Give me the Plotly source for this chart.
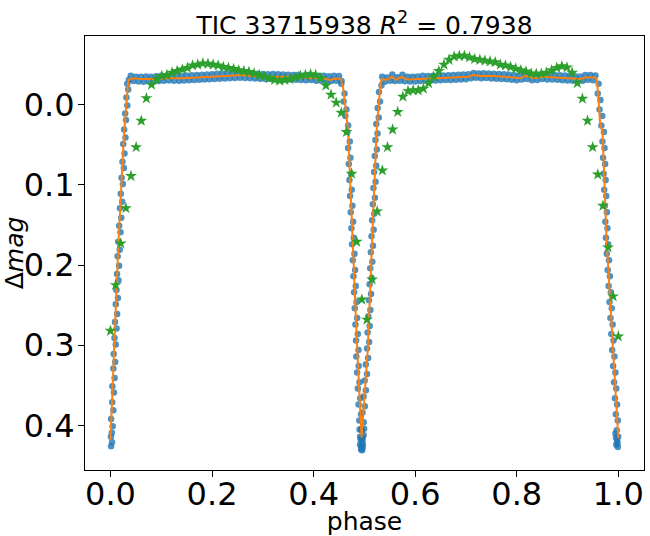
import numpy as np
import plotly.graph_objects as go

# --- green stars: model sampled on an even phase grid ---
star_phase = np.linspace(0, 1, 100)
star_mag = [0.282, 0.225, 0.173, 0.129, 0.089, 0.053, 0.020, -0.008, -0.025, -0.032,
            -0.036, -0.037, -0.040, -0.042, -0.044, -0.046, -0.049, -0.050, -0.0515, -0.051,
            -0.050, -0.049, -0.047, -0.046, -0.0445, -0.043, -0.042, -0.041, -0.039, -0.037,
            -0.035, -0.033, -0.031, -0.030, -0.031, -0.032, -0.034, -0.036, -0.037, -0.038,
            -0.037, -0.033, -0.024, -0.0125, -0.0025, 0.010, 0.034, 0.086, 0.171, 0.243,
            0.268, 0.218, 0.133, 0.082, 0.053, 0.031, 0.009, -0.010, -0.017, -0.018,
            -0.018, -0.020, -0.027, -0.035, -0.042, -0.050, -0.056, -0.060, -0.061, -0.061,
            -0.059, -0.057, -0.056, -0.055, -0.054, -0.053, -0.050, -0.049, -0.047, -0.045,
            -0.043, -0.0415, -0.039, -0.0387, -0.0387, -0.040, -0.043, -0.046, -0.048, -0.0465,
            -0.040, -0.027, -0.0075, 0.020, 0.053, 0.087, 0.126, 0.178, 0.239, 0.289]

# --- orange model curve ---
model_phase = [0.0, 0.0155, 0.0266, 0.032, 0.035, 0.040, 0.06, 0.084, 0.111, 0.143,
               0.176, 0.196, 0.222, 0.26, 0.275, 0.301, 0.334, 0.367, 0.399, 0.419,
               0.432, 0.445, 0.454, 0.4585, 0.464, 0.468, 0.486, 0.4945, 0.5065, 0.524,
               0.532, 0.535, 0.545, 0.554, 0.5636, 0.573, 0.583, 0.603, 0.613, 0.636,
               0.675, 0.705, 0.714, 0.728, 0.747, 0.774, 0.806, 0.816, 0.836, 0.852,
               0.879, 0.905, 0.925, 0.934, 0.954, 0.9575, 0.9606, 0.964, 0.969, 0.977,
               1.0]
model_mag = [0.418, 0.174, 0.037, -0.011, -0.030, -0.033, -0.032, -0.032, -0.033, -0.033,
             -0.034, -0.035, -0.036, -0.037, -0.036, -0.035, -0.035, -0.034, -0.033, -0.033,
             -0.031, -0.033, -0.032, -0.0195, 0.0096, 0.035, 0.307, 0.415, 0.307, 0.032,
             -0.028, -0.032, -0.031, -0.035, -0.031, -0.035, -0.0316, -0.032, -0.033, -0.033,
             -0.034, -0.035, -0.037, -0.0358, -0.036, -0.035, -0.033, -0.036, -0.033, -0.035,
             -0.034, -0.033, -0.032, -0.034, -0.034, -0.032, -0.011, 0.022, 0.035, 0.170,
             0.416]

# --- blue observations ---
# out-of-eclipse plateau after primary (two rows of the dense band)
pl1_up_phase = [0.04, 0.05, 0.06, 0.07, 0.08, 0.09, 0.10, 0.11, 0.12, 0.13, 0.14, 0.15, 0.16, 0.17,
                0.18, 0.19, 0.20, 0.21, 0.22, 0.23, 0.24, 0.25, 0.26, 0.27, 0.28, 0.29, 0.30, 0.31,
                0.32, 0.33, 0.34, 0.35, 0.36, 0.37, 0.38, 0.39, 0.40, 0.41, 0.42, 0.43, 0.44, 0.45]
pl1_up_mag = [-0.0360, -0.0350, -0.0350, -0.0353, -0.0350, -0.0355, -0.0360, -0.0360, -0.0357, -0.0363,
              -0.0360, -0.0365, -0.0367, -0.0370, -0.0375, -0.0377, -0.0380, -0.0385, -0.0390, -0.0388,
              -0.0392, -0.0395, -0.0397, -0.0393, -0.0390, -0.0385, -0.0383, -0.0380, -0.0382, -0.0379,
              -0.0377, -0.0375, -0.0371, -0.0373, -0.0365, -0.0370, -0.0362, -0.0360, -0.0362, -0.0355,
              -0.0360, -0.0357]
pl1_lo_phase = [0.045, 0.055, 0.065, 0.075, 0.085, 0.095, 0.105, 0.115, 0.125, 0.135, 0.145, 0.155,
                0.165, 0.175, 0.185, 0.195, 0.205, 0.215, 0.225, 0.235, 0.245, 0.255, 0.265, 0.275,
                0.285, 0.295, 0.305, 0.315, 0.325, 0.335, 0.345, 0.355, 0.365, 0.375, 0.385, 0.395,
                0.405, 0.415, 0.425, 0.435, 0.445, 0.455]
pl1_lo_mag = [-0.0295, -0.0290, -0.0287, -0.0292, -0.0290, -0.0295, -0.0298, -0.0302, -0.0298, -0.0300,
              -0.0302, -0.0305, -0.0307, -0.0310, -0.0315, -0.0318, -0.0320, -0.0325, -0.0328, -0.0330,
              -0.0333, -0.0335, -0.0333, -0.0330, -0.0327, -0.0323, -0.0320, -0.0320, -0.0322, -0.0317,
              -0.0315, -0.0313, -0.0310, -0.0308, -0.0305, -0.0307, -0.0300, -0.0298, -0.0290, -0.0295,
              -0.0298, -0.0295]
# plateau after secondary
pl2_up_phase = [0.535, 0.545, 0.555, 0.565, 0.575, 0.585, 0.595, 0.605, 0.615, 0.625, 0.635, 0.645,
                0.655, 0.665, 0.675, 0.685, 0.695, 0.705, 0.715, 0.725, 0.735, 0.745, 0.755, 0.765,
                0.775, 0.785, 0.795, 0.805, 0.815, 0.825, 0.835, 0.845, 0.855, 0.865, 0.875, 0.885,
                0.895, 0.905, 0.915, 0.925, 0.935, 0.945, 0.955]
pl2_up_mag = [-0.0350, -0.0340, -0.0377, -0.0343, -0.0375, -0.0348, -0.0350, -0.0352, -0.0360, -0.0358,
              -0.0362, -0.0363, -0.0365, -0.0368, -0.0370, -0.0373, -0.0377, -0.0380, -0.0395, -0.0390,
              -0.0391, -0.0390, -0.0387, -0.0383, -0.0380, -0.0375, -0.0368, -0.0363, -0.0387, -0.0375,
              -0.0362, -0.0370, -0.0380, -0.0375, -0.0371, -0.0368, -0.0365, -0.0360, -0.0355, -0.0353,
              -0.0370, -0.0370, -0.0365]
pl2_lo_phase = [0.54, 0.55, 0.56, 0.57, 0.58, 0.59, 0.60, 0.61, 0.62, 0.63, 0.64, 0.65, 0.66, 0.67,
                0.68, 0.69, 0.70, 0.71, 0.72, 0.73, 0.74, 0.75, 0.76, 0.77, 0.78, 0.79, 0.80, 0.81,
                0.82, 0.83, 0.84, 0.85, 0.86, 0.87, 0.88, 0.89, 0.90, 0.91, 0.92, 0.93, 0.94, 0.95]
pl2_lo_mag = [-0.0285, -0.0300, -0.0295, -0.0300, -0.0292, -0.0290, -0.0290, -0.0297, -0.0300, -0.0298,
              -0.0303, -0.0305, -0.0307, -0.0308, -0.0312, -0.0315, -0.0317, -0.0330, -0.0335, -0.0330,
              -0.0332, -0.0328, -0.0325, -0.0322, -0.0317, -0.0312, -0.0305, -0.0315, -0.0320, -0.0305,
              -0.0308, -0.0320, -0.0315, -0.0313, -0.0310, -0.0305, -0.0302, -0.0298, -0.0292, -0.0300,
              -0.0310, -0.0305]
# primary egress
eg1_phase = [0.0012, 0.0030, 0.0008, 0.0026, 0.0043, 0.0012, 0.0056, 0.0034, 0.0068, 0.0037,
             0.0081, 0.0057, 0.0093, 0.0063, 0.0104, 0.0079, 0.0119, 0.0089, 0.0131, 0.0104,
             0.0146, 0.0117, 0.0157, 0.0129, 0.0169, 0.0141, 0.0182, 0.0154, 0.0197, 0.0171,
             0.0212, 0.0186, 0.0230, 0.0203, 0.0244, 0.0219, 0.0262, 0.0236, 0.0276, 0.0251,
             0.0295, 0.0269, 0.0306, 0.0289, 0.0331, 0.0314, 0.0349, 0.0331, 0.0362]
eg1_mag = [0.426, 0.421, 0.414, 0.409, 0.401, 0.392, 0.381, 0.371, 0.359, 0.351,
           0.341, 0.329, 0.321, 0.311, 0.299, 0.291, 0.279, 0.271, 0.261, 0.249,
           0.241, 0.231, 0.219, 0.211, 0.201, 0.189, 0.181, 0.171, 0.159, 0.151,
           0.141, 0.129, 0.121, 0.111, 0.099, 0.091, 0.079, 0.071, 0.061, 0.049,
           0.041, 0.031, 0.019, 0.011, 0.001, -0.009, -0.019, -0.026, -0.031]
# secondary ingress, bottom, egress
in2_phase = [0.4545, 0.4609, 0.4590, 0.4647, 0.4625, 0.4680, 0.4665, 0.4712, 0.4680, 0.4725,
             0.4693, 0.4738, 0.4705, 0.4751, 0.4718, 0.4764, 0.4731, 0.4778, 0.4744, 0.4791,
             0.4757, 0.4804, 0.4771, 0.4817, 0.4784, 0.4830, 0.4797, 0.4844, 0.4810, 0.4857,
             0.4823, 0.4870, 0.4836, 0.4884, 0.4841, 0.4888, 0.4856, 0.4903, 0.4871, 0.4918,
             0.4885, 0.4933, 0.4900, 0.4948, 0.4915]
in2_mag = [-0.026, -0.014, -0.004, 0.006, 0.014, 0.026, 0.034, 0.046, 0.054, 0.066,
           0.074, 0.086, 0.094, 0.106, 0.114, 0.126, 0.134, 0.146, 0.154, 0.166,
           0.174, 0.186, 0.194, 0.206, 0.214, 0.226, 0.234, 0.246, 0.254, 0.266,
           0.274, 0.286, 0.294, 0.306, 0.314, 0.326, 0.334, 0.346, 0.354, 0.366,
           0.374, 0.386, 0.394, 0.406, 0.414]
bot2_phase = [0.4905, 0.4925, 0.4940, 0.4955, 0.4970, 0.4985, 0.4950, 0.4915, 0.4965, 0.4995, 0.4935, 0.4960]
bot2_mag = [0.405, 0.418, 0.426, 0.431, 0.424, 0.412, 0.415, 0.424, 0.428, 0.404, 0.430, 0.420]
eg2_phase = [0.4965, 0.4941, 0.4987, 0.4963, 0.5009, 0.4985, 0.5030, 0.5006, 0.5052, 0.5028,
             0.5074, 0.5051, 0.5093, 0.5064, 0.5105, 0.5077, 0.5118, 0.5089, 0.5131, 0.5102,
             0.5143, 0.5115, 0.5156, 0.5127, 0.5169, 0.5140, 0.5182, 0.5153, 0.5194, 0.5166,
             0.5207, 0.5178, 0.5220, 0.5191, 0.5233, 0.5204, 0.5245, 0.5217, 0.5258, 0.5234,
             0.5282, 0.5261, 0.5309, 0.5287, 0.5336]
eg2_mag = [0.416, 0.404, 0.396, 0.384, 0.376, 0.364, 0.356, 0.344, 0.336, 0.324,
           0.316, 0.304, 0.296, 0.284, 0.276, 0.264, 0.256, 0.244, 0.236, 0.224,
           0.216, 0.204, 0.196, 0.184, 0.176, 0.164, 0.156, 0.144, 0.136, 0.124,
           0.116, 0.104, 0.096, 0.084, 0.076, 0.064, 0.056, 0.044, 0.036, 0.024,
           0.016, 0.004, -0.004, -0.016, -0.024]
# primary ingress towards phase 1
in1_phase = [0.9612, 0.9595, 0.9648, 0.9631, 0.9684, 0.9667, 0.9717, 0.9688, 0.9728, 0.9699,
             0.9740, 0.9711, 0.9751, 0.9722, 0.9763, 0.9734, 0.9775, 0.9745, 0.9786, 0.9757,
             0.9799, 0.9773, 0.9817, 0.9791, 0.9835, 0.9809, 0.9853, 0.9827, 0.9871, 0.9845,
             0.9888, 0.9862, 0.9906, 0.9880, 0.9924, 0.9898, 0.9942, 0.9916, 0.9960, 0.9934,
             0.9977, 0.9951, 0.9990, 0.9969, 0.9998]
in1_mag = [-0.026, -0.014, -0.006, 0.006, 0.014, 0.026, 0.034, 0.046, 0.054, 0.066,
           0.074, 0.086, 0.094, 0.106, 0.114, 0.126, 0.134, 0.146, 0.154, 0.166,
           0.174, 0.186, 0.194, 0.206, 0.214, 0.226, 0.234, 0.246, 0.254, 0.266,
           0.274, 0.286, 0.294, 0.306, 0.314, 0.326, 0.334, 0.346, 0.354, 0.366,
           0.374, 0.386, 0.394, 0.406, 0.414]
bot1_phase = [0.9945, 0.9960, 0.9975, 0.9990, 0.9955, 0.9985]
bot1_mag = [0.410, 0.424, 0.419, 0.427, 0.415, 0.422]

obs_phase = (pl1_up_phase + pl1_lo_phase + eg1_phase + in2_phase + bot2_phase + eg2_phase
             + pl2_up_phase + pl2_lo_phase + in1_phase + bot1_phase)
obs_mag = (pl1_up_mag + pl1_lo_mag + eg1_mag + in2_mag + bot2_mag + eg2_mag
           + pl2_up_mag + pl2_lo_mag + in1_mag + bot1_mag)

fig = go.Figure()
fig.add_trace(go.Scatter(x=obs_phase, y=obs_mag, mode='markers',
                         marker=dict(size=6.5, color='#1f77b4', opacity=0.8)))
fig.add_trace(go.Scatter(x=model_phase, y=model_mag, mode='lines',
                         line=dict(color='#ff7f0e', width=2)))
fig.add_trace(go.Scatter(x=star_phase, y=star_mag, mode='markers',
                         marker=dict(symbol='star', size=9, color='#2ca02c')))

axis_style = dict(showline=True, linecolor='black', linewidth=1, mirror=True,
                  ticks='outside', ticklen=6, tickwidth=1, tickcolor='black',
                  showgrid=False, zeroline=False, tickformat='.1f', automargin=False,
                  tickfont=dict(size=32))

fig.update_layout(
    width=650, height=536,
    margin=dict(l=85, r=6, t=36, b=66),
    plot_bgcolor='white', paper_bgcolor='white',
    showlegend=False,
    font=dict(family='DejaVu Sans', size=25, color='black'),
    title=dict(text='TIC 33715938 <i>R</i><sup>2</sup> = 0.7938',
               x=0.5, xref='paper', y=0.953, yref='container', yanchor='middle',
               font=dict(size=25)),
)
fig.update_xaxes(range=[-0.0502, 1.0506], tickvals=[0, 0.2, 0.4, 0.6, 0.8, 1.0],
                 ticklabelstandoff=-10,
                 title=dict(text='phase', font=dict(size=25), standoff=1), **axis_style)
fig.update_yaxes(range=[0.4556, -0.0857], tickvals=[0, 0.1, 0.2, 0.3, 0.4],
                 ticklabelstandoff=-3,
                 title=dict(text='Δ<i>mag</i>', font=dict(size=25), standoff=4), **axis_style)

# page body has a default 8px margin; drop it so the figure fills the window
fig.write_html("out.html", config={'displayModeBar': False},
               post_script="document.body.style.margin='0';")
